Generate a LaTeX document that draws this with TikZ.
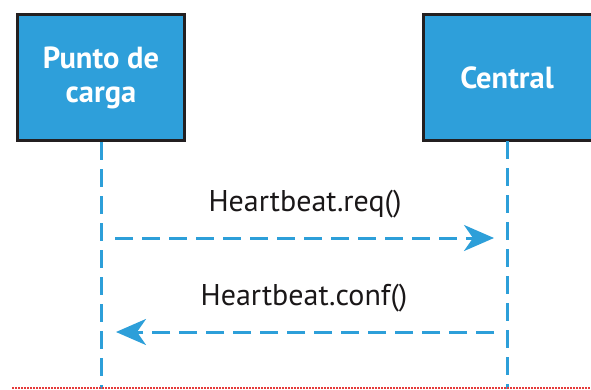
\documentclass[tikz,border=0pt]{standalone}
\usepackage{fontspec}
\setmainfont{PT Sans}
\usetikzlibrary{arrows.meta}
\definecolor{boxblue}{HTML}{2E9FDA}
\definecolor{boxline}{HTML}{231F20}
\definecolor{lifeblue}{HTML}{2D9FD9}
\definecolor{txt}{HTML}{1A1718}
\definecolor{marker}{HTML}{E63A3A}
\begin{document}
\begin{tikzpicture}[x=1pt,y=-1pt,
  actor/.style={draw=boxline, line width=3.5pt, fill=boxblue, minimum width=167pt, minimum height=126pt,
    text=white, font=\fontsize{30.5}{34}\selectfont\bfseries, align=center, inner sep=0pt},
  lifeline/.style={draw=lifeblue, line width=3pt, dash pattern=on 18pt off 9pt},
  msg/.style={lifeline, -{Stealth[length=30pt,width=26pt,inset=9pt]}},
  lbl/.style={font=\fontsize{30}{34}\selectfont, text=txt, inner sep=0pt}]
\useasboundingbox (0,0) rectangle (591,389);
\node[actor] (cp) at (101,77.5) {Punto de\\carga};
\node[actor, minimum width=177pt] (cs) at (512,77.5) {\hspace*{-10pt}Central};
\coordinate (cpend) at (101,389);
\coordinate (csend) at (507,389);
\coordinate (cstop) at (507,141);
\draw[lifeline] (cp.south) -- (cpend);
\draw[lifeline] (cstop) -- (csend);
\coordinate (m1s) at (115,238);
\coordinate (m1e) at (494,238);
\coordinate (m2s) at (494,332);
\coordinate (m2e) at (116,332);
\draw[msg] (m1s) -- (m1e);
\draw[msg] (m2s) -- (m2e);
\node[lbl] (l1) at (305,204) {Heartbeat.req()};
\node[lbl] (l2) at (304,298) {Heartbeat.conf()};
\coordinate (rs) at (12,387.5);
\coordinate (re) at (591,387.5);
\draw[marker, line width=2pt, dash pattern=on 1.5pt off 1.5pt] (rs) -- (re);
\end{tikzpicture}
\end{document}
